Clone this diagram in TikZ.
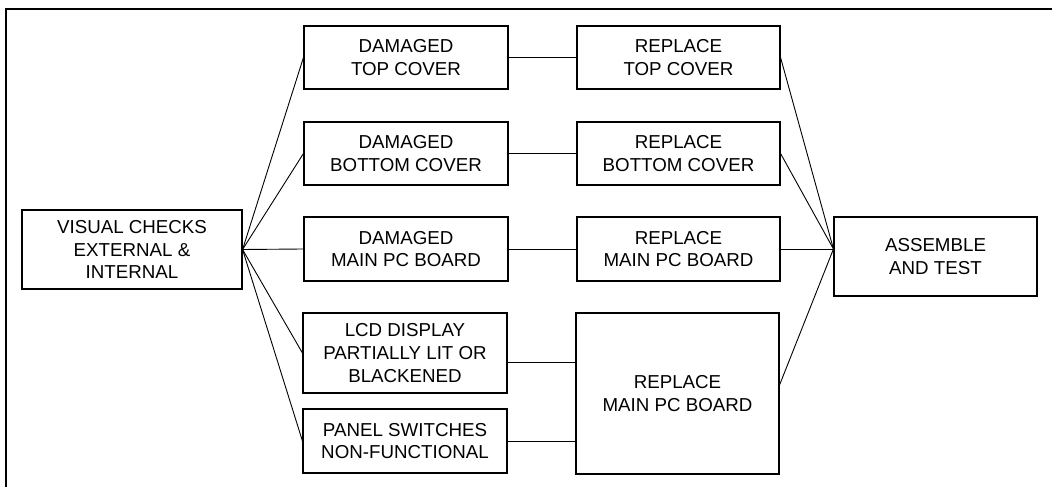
\documentclass[tikz,border=0pt]{standalone}
\usepackage{fontspec}
\setmainfont{Liberation Sans}
\begin{document}
\begin{tikzpicture}[x=1bp, y=-1bp,
  caixa/.style={draw, line width=1.1bp, inner sep=0pt, align=center,
    font=\fontsize{18.8}{22.8}\selectfont},
  liga/.style={line width=0.9bp}]
  \useasboundingbox (0,0) rectangle (1052,487);
  % moldura
  \draw[line width=2bp] (6,487) -- (6,9) -- (1052,9);
  % verificacao
  \node[caixa, minimum width=220bp, minimum height=79bp] (vis) at (132,249.5)
    {VISUAL CHECKS\\EXTERNAL \&\\INTERNAL};
  % defeitos
  \node[caixa, minimum width=204bp, minimum height=63bp] (d1) at (406,57.5) {DAMAGED\\TOP COVER};
  \node[caixa, minimum width=204bp, minimum height=63bp] (d2) at (406,153.5) {DAMAGED\\BOTTOM COVER};
  \node[caixa, minimum width=204bp, minimum height=64bp] (d3) at (406,249) {DAMAGED\\MAIN PC BOARD};
  \node[caixa, minimum width=204bp, minimum height=80bp] (lcd) at (405,353) {LCD DISPLAY\\PARTIALLY LIT OR\\BLACKENED};
  \node[caixa, minimum width=204bp, minimum height=64bp] (pan) at (405,441) {PANEL SWITCHES\\NON-FUNCTIONAL};
  % reparos
  \node[caixa, minimum width=203bp, minimum height=63bp] (r1) at (678.5,57.5) {REPLACE\\TOP COVER};
  \node[caixa, minimum width=203bp, minimum height=63bp] (r2) at (678.5,153.5) {REPLACE\\BOTTOM COVER};
  \node[caixa, minimum width=203bp, minimum height=64bp] (r3) at (678.5,249) {REPLACE\\MAIN PC BOARD};
  \node[caixa, minimum width=203bp, minimum height=161bp] (r4) at (677.5,393.5) {REPLACE\\MAIN PC BOARD};
  % montagem
  \node[caixa, minimum width=203bp, minimum height=79bp] (asm) at (935.5,256.5) {ASSEMBLE\\AND TEST};
  \coordinate (ent) at (r3.east -| asm.west);
  % ligacoes
  \foreach \d in {d1,d2,d3,lcd,pan}
    \draw[liga] (vis.east) -- (\d.west);
  \foreach \d/\r in {d1/r1,d2/r2,d3/r3}
    \draw[liga] (\d.east) -- (\r.west);
  \draw[liga] ([yshift=-9bp]lcd.east) -- ([yshift=-9bp]lcd.east -| r4.west);
  \draw[liga] (pan.east) -- (pan.east -| r4.west);
  \foreach \r in {r1,r2,r3}
    \draw[liga] (\r.east) -- (ent);
  \draw[liga] ([yshift=8.5bp]r4.east) -- (ent);
\end{tikzpicture}
\end{document}
